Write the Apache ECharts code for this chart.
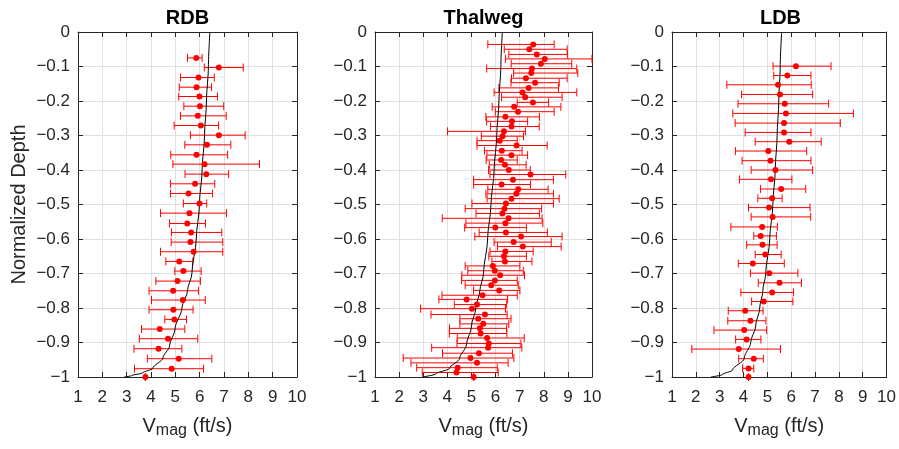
<!DOCTYPE html>
<html><head><meta charset="utf-8">
<script src="https://cdn.jsdelivr.net/npm/echarts@6/dist/echarts.min.js"></script>
<style>html,body{margin:0;padding:0;background:#fff}#c{width:899px;height:449px}</style>
</head><body><div id="c"></div>
<script>
const panelTitles = ['RDB', 'Thalweg', 'LDB'];
const yAxisTitle = 'Normalized Depth';

// RDB
const rdbDepth = [-0.075,-0.103,-0.132,-0.160,-0.187,-0.215,-0.243,-0.271,-0.299,-0.327,-0.356,-0.383,-0.412,-0.440,-0.468,-0.497,-0.525,-0.555,-0.581,-0.609,-0.637,-0.665,-0.693,-0.722,-0.750,-0.777,-0.805,-0.833,-0.861,-0.889,-0.918,-0.947,-0.976,-1.000];
const rdbV  = [5.86,6.79,5.95,5.87,5.99,6.01,5.92,6.05,6.79,6.30,5.87,6.20,6.27,5.81,5.54,5.99,5.58,5.49,5.65,5.62,5.75,5.16,5.33,5.09,4.91,5.31,4.92,4.96,4.36,4.70,4.31,5.14,4.85,3.77];
const rdbLo = [5.50,6.19,5.21,5.16,5.14,5.35,5.21,4.95,5.62,5.39,4.81,4.90,5.40,4.80,4.80,5.33,4.39,4.76,4.84,4.83,4.39,4.61,4.98,4.20,3.92,4.02,3.92,4.57,3.61,3.52,3.30,3.85,3.32,3.77];
const rdbHi = [6.10,7.79,6.60,6.49,6.73,6.99,7.09,6.78,7.87,7.28,7.15,8.46,7.19,6.62,6.53,6.29,7.10,6.24,6.91,6.95,6.95,5.72,6.06,6.03,5.95,6.23,5.73,5.46,5.39,5.92,5.27,6.50,6.16,3.77];
const rdbCurveDepth = [0,-0.1,-0.2,-0.3,-0.4,-0.5,-0.6,-0.7,-0.75,-0.8,-0.86,-0.91,-0.945,-0.975,-0.988,-0.996,-1.0];
const rdbCurveV     = [6.42,6.36,6.28,6.20,6.10,5.99,5.86,5.68,5.50,5.27,4.99,4.76,4.49,4.07,3.66,3.20,2.90];

// Thalweg
const thwDepth = [-0.036,-0.050,-0.065,-0.078,-0.092,-0.106,-0.119,-0.134,-0.147,-0.162,-0.175,-0.189,-0.204,-0.217,-0.231,-0.246,-0.259,-0.274,-0.288,-0.302,-0.315,-0.329,-0.344,-0.357,-0.371,-0.385,-0.400,-0.413,-0.428,-0.442,-0.456,-0.469,-0.483,-0.497,-0.512,-0.526,-0.540,-0.554,-0.567,-0.581,-0.593,-0.609,-0.622,-0.636,-0.650,-0.665,-0.678,-0.692,-0.705,-0.720,-0.734,-0.749,-0.763,-0.775,-0.790,-0.802,-0.819,-0.831,-0.846,-0.859,-0.874,-0.887,-0.903,-0.915,-0.931,-0.945,-0.959,-0.973,-0.987,-1.000];
const thwV  = [7.56,7.40,7.71,8.04,7.88,7.51,7.48,7.26,7.64,7.37,7.12,7.23,7.55,6.77,6.93,6.41,6.68,6.66,6.35,6.29,6.17,6.87,6.26,6.66,6.23,6.39,6.55,7.45,6.72,6.25,6.94,6.86,6.66,6.43,6.37,6.28,6.54,6.41,5.99,6.43,7.06,6.75,7.13,6.41,6.35,6.39,5.89,5.97,6.19,5.97,5.82,6.15,5.46,4.80,5.23,5.02,5.56,5.28,5.49,5.35,5.38,5.65,5.72,5.69,5.31,4.96,5.23,4.43,4.38,5.09];
const thwLo = [5.68,6.36,6.55,6.41,6.65,5.63,6.75,6.66,6.64,6.14,5.94,6.25,6.90,5.86,5.99,5.60,5.63,5.79,4.01,5.41,5.23,5.23,5.54,5.64,5.61,5.74,5.71,5.77,5.09,5.09,5.68,5.60,5.65,5.02,4.74,5.19,3.79,4.77,4.72,5.32,5.14,5.94,6.08,5.77,5.72,5.85,4.74,4.85,4.60,4.59,4.74,5.09,3.78,3.65,4.29,2.89,3.32,4.52,4.52,4.09,4.08,4.41,4.40,3.35,3.80,2.17,2.49,2.73,2.96,5.09];
const thwHi = [8.43,8.97,8.98,10.0,9.16,9.37,9.41,8.97,8.64,8.61,9.37,8.76,8.20,8.71,8.43,7.82,7.33,7.81,7.24,7.16,6.90,8.14,7.10,7.33,6.90,7.27,7.44,8.91,8.40,7.45,8.18,8.40,8.64,8.40,7.91,7.82,7.93,7.96,7.28,8.15,8.76,8.31,8.72,7.56,7.28,7.51,7.01,7.15,7.20,6.90,6.94,7.01,6.90,6.50,6.46,6.41,6.48,6.64,6.55,6.46,6.47,7.19,7.05,7.09,6.70,6.76,6.52,6.07,6.11,5.09];
const thwCurveDepth = [0,-0.1,-0.2,-0.3,-0.4,-0.5,-0.6,-0.7,-0.75,-0.8,-0.853,-0.907,-0.946,-0.975,-0.991,-1.0];
const thwCurveV     = [6.28,6.22,6.14,6.05,5.94,5.81,5.67,5.50,5.35,5.18,5.00,4.79,4.51,4.09,3.53,2.97];

// LDB
const ldbDepth = [-0.099,-0.126,-0.153,-0.181,-0.208,-0.236,-0.264,-0.291,-0.318,-0.345,-0.373,-0.400,-0.427,-0.455,-0.482,-0.509,-0.536,-0.565,-0.591,-0.617,-0.645,-0.671,-0.699,-0.727,-0.755,-0.781,-0.808,-0.837,-0.864,-0.891,-0.919,-0.947,-0.975,-1.000];
const ldbV  = [6.20,5.84,5.45,5.53,5.73,5.78,5.70,5.70,5.92,5.04,5.13,5.34,5.15,5.58,5.20,5.07,5.22,4.78,4.72,4.80,4.91,4.39,5.08,5.51,5.20,4.85,4.07,4.29,4.03,4.13,3.80,4.43,4.21,4.21];
const ldbLo = [5.24,5.27,3.30,3.92,3.77,3.55,3.65,4.07,4.49,3.66,3.94,4.32,3.83,4.71,4.60,4.21,4.32,3.47,4.43,4.13,4.49,3.78,4.29,4.62,3.89,4.34,3.36,3.34,2.76,3.67,1.83,3.80,3.96,4.21];
const ldbHi = [7.67,6.83,6.84,6.90,7.57,8.61,8.06,6.83,7.26,6.65,6.83,6.90,6.03,6.61,5.62,6.79,6.82,5.42,5.38,5.41,5.58,5.71,6.28,6.43,6.10,6.07,4.82,4.94,4.97,4.73,5.55,4.83,4.43,4.21];
const ldbCurveDepth = [0,-0.1,-0.2,-0.3,-0.4,-0.5,-0.6,-0.7,-0.75,-0.8,-0.852,-0.9,-0.946,-0.98,-0.993,-1.0];
const ldbCurveV     = [5.60,5.54,5.48,5.41,5.33,5.23,5.10,4.93,4.81,4.68,4.51,4.30,4.03,3.54,3.12,2.63];

const xMin = 1, xMax = 10, xStep = 1;
const yMin = -1, yMax = 0, yStep = 0.1;

const panels = [
  {depth: rdbDepth, v: rdbV, lo: rdbLo, hi: rdbHi, cd: rdbCurveDepth, cv: rdbCurveV},
  {depth: thwDepth, v: thwV, lo: thwLo, hi: thwHi, cd: thwCurveDepth, cv: thwCurveV},
  {depth: ldbDepth, v: ldbV, lo: ldbLo, hi: ldbHi, cd: ldbCurveDepth, cv: ldbCurveV}
];

const FONT = "'Liberation Sans', Arial, Helvetica, sans-serif";
const AX = '#262626';
const GRIDC = '#e0e0e0';
const lefts = [78, 375, 672];
const widths = [219, 217, 217];
const TOP = 32, H = 345;

function yFmt(v) {
  if (Math.abs(v) < 1e-9) return '0';
  const a = Math.abs(v);
  const s = Math.abs(a - 1) < 1e-9 ? '1' : a.toFixed(1);
  return '\u2212' + s;
}

function renderErr(params, api) {
  const y = api.value(2);
  const a = api.coord([api.value(0), y]);
  const b = api.coord([api.value(1), y]);
  const h = 4;
  const st = {stroke: '#ff0000', lineWidth: 1};
  return {type: 'group', children: [
    {type: 'line', shape: {x1: a[0], y1: a[1], x2: b[0], y2: b[1]}, style: st},
    {type: 'line', shape: {x1: a[0], y1: a[1] - h, x2: a[0], y2: a[1] + h}, style: st},
    {type: 'line', shape: {x1: b[0], y1: b[1] - h, x2: b[0], y2: b[1] + h}, style: st}
  ]};
}

const grid = [], xAxis = [], yAxis = [], series = [], graphic = [];
panels.forEach((p, i) => {
  grid.push({left: lefts[i], top: TOP, width: widths[i], height: H, containLabel: false});
  const tick = {show: true, inside: true, length: 5, lineStyle: {color: AX, width: 1}};
  const line = {show: true, onZero: false, lineStyle: {color: AX, width: 1}};
  xAxis.push({
    gridIndex: i, type: 'value', min: xMin, max: xMax, interval: xStep, position: 'bottom',
    axisLine: line, axisTick: tick,
    axisLabel: {margin: 12, fontSize: 17, color: AX, fontFamily: FONT},
    splitLine: {show: true, lineStyle: {color: GRIDC, width: 1}},
    name: '{v|V}{s|mag}{v| (ft/s)}', nameLocation: 'middle', nameGap: 39,
    nameTextStyle: {fontFamily: FONT, color: AX, rich: {
      v: {fontSize: 20, lineHeight: 22, verticalAlign: 'top', fontFamily: FONT, color: AX},
      s: {fontSize: 16, lineHeight: 16, padding: [12, 0, 0, 0], verticalAlign: 'bottom', fontFamily: FONT, color: AX}
    }}
  });
  xAxis.push({
    gridIndex: i, type: 'value', min: xMin, max: xMax, interval: xStep, position: 'top',
    axisLine: line, axisTick: tick, axisLabel: {show: false}, splitLine: {show: false}
  });
  yAxis.push({
    gridIndex: i, type: 'value', min: yMin, max: yMax, interval: yStep, position: 'left',
    axisLine: line, axisTick: tick,
    axisLabel: {margin: 8, fontSize: 17, color: AX, fontFamily: FONT, formatter: yFmt},
    splitLine: {show: true, lineStyle: {color: GRIDC, width: 1}},
    name: i === 0 ? yAxisTitle : '', nameLocation: 'middle', nameGap: 49,
    nameTextStyle: {fontSize: 20, color: AX, fontFamily: FONT}
  });
  yAxis.push({
    gridIndex: i, type: 'value', min: yMin, max: yMax, interval: yStep, position: 'right',
    axisLine: line, axisTick: tick, axisLabel: {show: false}, splitLine: {show: false}
  });
  const xi = 2 * i, yi = 2 * i;
  series.push({
    type: 'custom', xAxisIndex: xi, yAxisIndex: yi, renderItem: renderErr,
    encode: {x: [0, 1], y: 2}, z: 2, silent: true,
    data: p.depth.map((d, k) => [p.lo[k], p.hi[k], d])
  });
  series.push({
    type: 'line', xAxisIndex: xi, yAxisIndex: yi, showSymbol: false, symbol: 'none',
    smooth: 0.3, smoothMonotone: 'y', z: 3, silent: true,
    lineStyle: {color: '#000', width: 1},
    data: p.cd.map((d, k) => [p.cv[k], d])
  });
  series.push({
    type: 'scatter', xAxisIndex: xi, yAxisIndex: yi, symbol: 'circle', symbolSize: 6, z: 4,
    itemStyle: {color: '#ff0000', opacity: 1}, silent: true,
    data: p.depth.map((d, k) => [p.v[k], d])
  });
  graphic.push({
    type: 'text', x: lefts[i] + widths[i] / 2, y: 18,
    style: {text: panelTitles[i], font: 'bold 20px ' + FONT, fill: '#000', align: 'center', verticalAlign: 'middle'}
  });
});

const chart = echarts.init(document.getElementById('c'), null, {renderer: 'canvas'});
chart.setOption({animation: false, backgroundColor: '#fff', grid, xAxis, yAxis, series, graphic});
</script>
</body></html>
